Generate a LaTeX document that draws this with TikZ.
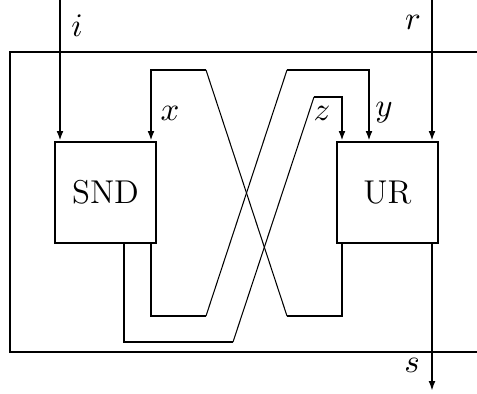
\documentclass[tikz,border=0pt]{standalone}
\usetikzlibrary{arrows.meta,calc}
\tikzset{
  frame/.style={line width=0.8pt},
  wire/.style={line width=0.8pt},
  cross/.style={line width=0.35pt},
  feed/.style={wire, -{Latex[length=3.3pt,width=2.3pt]}},
  unit/.style={draw, line width=0.8pt, minimum width=33.6pt, minimum height=33.6pt, inner sep=0pt}
}
\begin{document}
\begin{tikzpicture}[x=0.3333pt, y=-0.3333pt, font=\fontsize{11}{13}\selectfont]
    \useasboundingbox (0,0) rectangle (477,393);
    % --- the enclosing frame, open to the right ---
    \draw[frame] (477,52) -| (10,352) -- (477,352);

    % --- the two units ---
    \node[unit] (snd) at (105.5,192.5) {SND};
    \node[unit] (ur)  at (387.5,192.5) {UR};

    % --- external inputs and output ---
    \coordinate (iin)  at (60,0);
    \coordinate (rin)  at (432,0);
    \coordinate (sout) at (432,391);
    \draw[feed] (iin) -- (iin |- snd.north);
    \draw[feed] (rin) -- (rin |- ur.north);
    \draw[feed] (rin |- ur.south) -- (sout);
    \node (li) at (77,26)  {$i$};
    \node (lr) at (413,22) {$r$};
    \node (ls) at (412,365) {$s$};

    % --- x: UR back to SND ---
    \coordinate (x1) at (151,70);
    \coordinate (x2) at (206,70);
    \coordinate (x3) at (287,316);
    \coordinate (x4) at (342,316);
    \draw[wire] (x4 |- ur.south) -- (x4) -- (x3);
    \draw[cross] (x3) -- (x2);
    \draw[feed] (x2) -- (x1) -- (x1 |- snd.north);
    \node (lx) at (170,113) {$x$};

    % --- y: SND over to UR ---
    \coordinate (y1) at (151,316);
    \coordinate (y2) at (206,316);
    \coordinate (y3) at (287,70);
    \coordinate (y4) at (369,70);
    \draw[wire] (y1 |- snd.south) -- (y1) -- (y2);
    \draw[cross] (y2) -- (y3);
    \draw[feed] (y3) -- (y4) -- (y4 |- ur.north);
    \node (ly) at (384,113) {$y$};

    % --- z: the wider loop from SND to UR ---
    \coordinate (z1) at (124,342);
    \coordinate (z2) at (233,342);
    \coordinate (z3) at (314,97);
    \coordinate (z4) at (342,97);
    \draw[wire] (z1 |- snd.south) -- (z1) -- (z2);
    \draw[cross] (z2) -- (z3);
    \draw[feed] (z3) -- (z4) -- (z4 |- ur.north);
    \node (lz) at (322,113) {$z$};
\end{tikzpicture}
\end{document}
